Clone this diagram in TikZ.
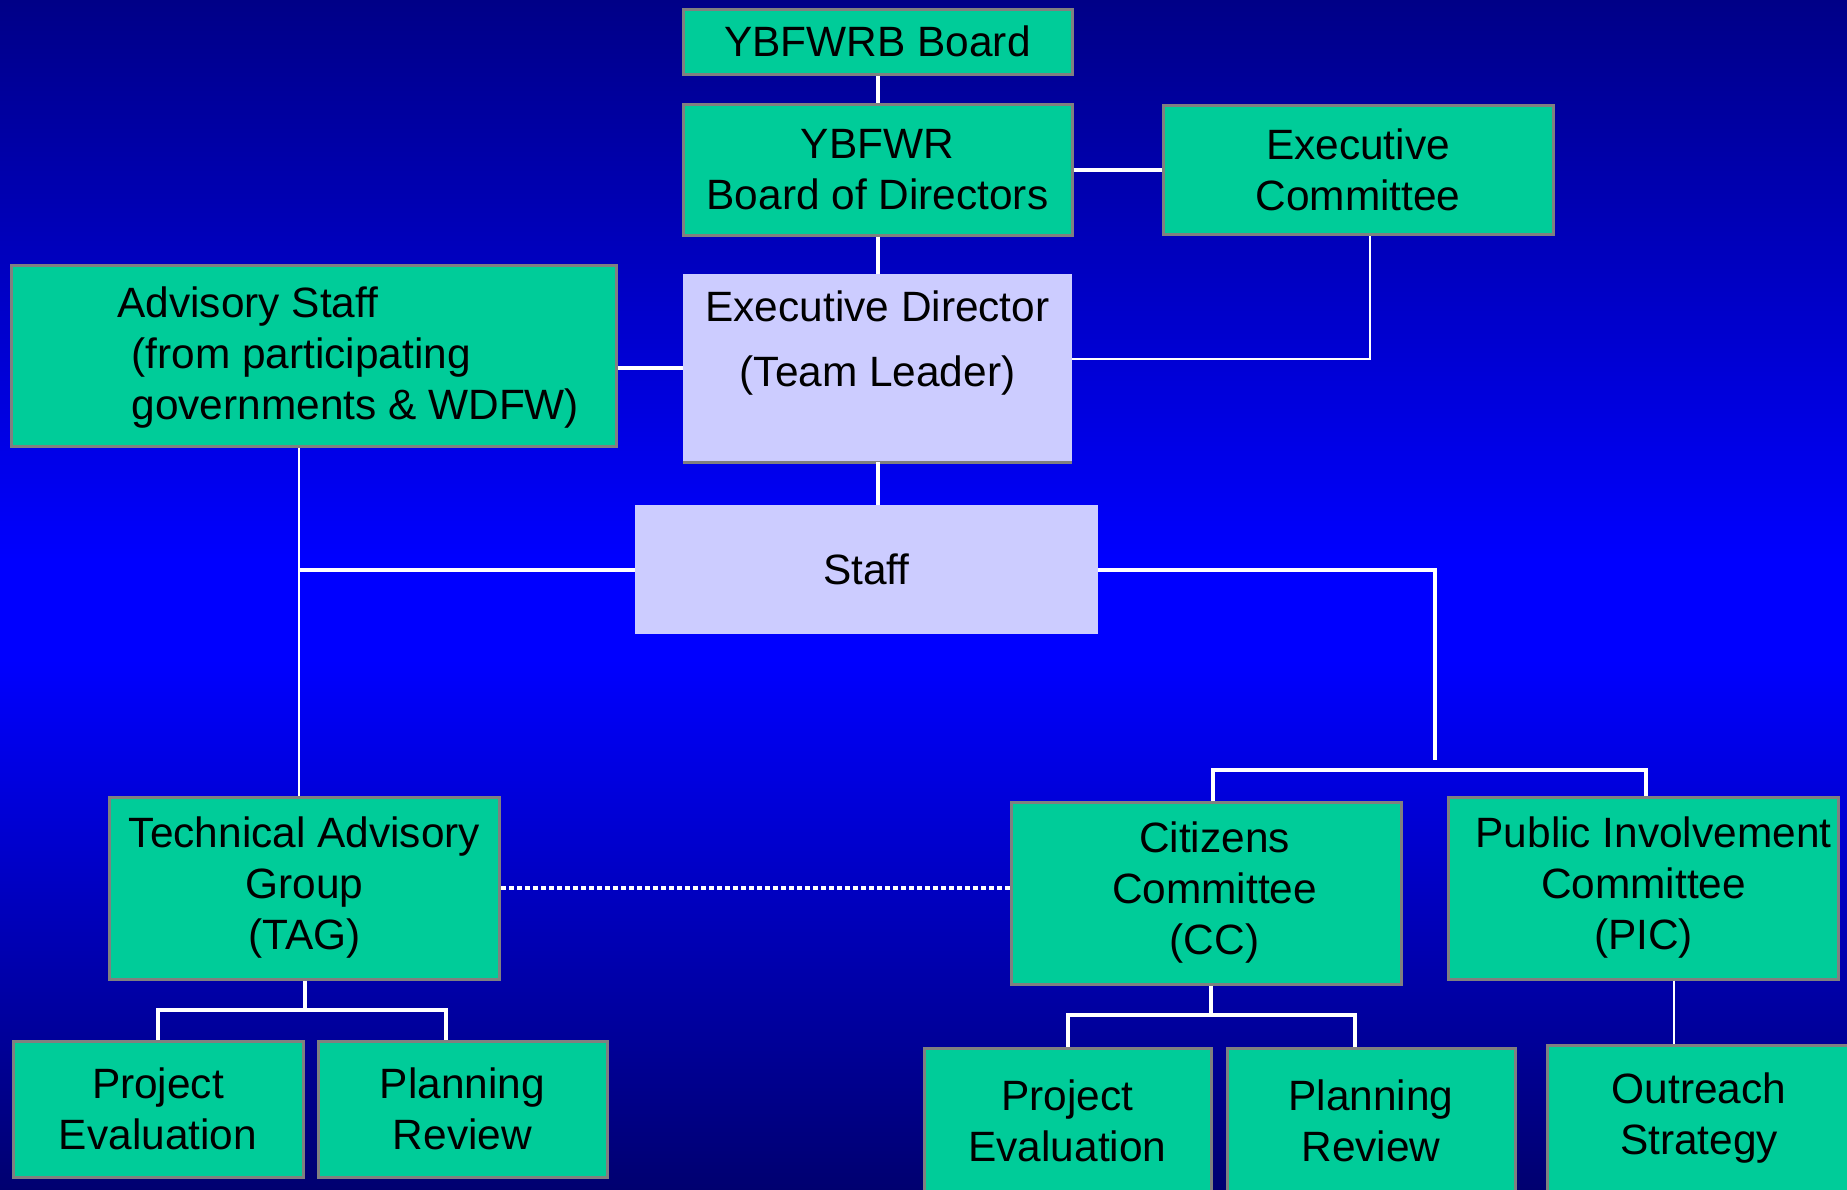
\documentclass[tikz,border=0pt]{standalone}
\usepackage{fontspec}
\setmainfont{Liberation Sans}
\usepackage{tikz}
\usetikzlibrary{positioning}

\definecolor{boxgreen}{RGB}{0,204,153}
\definecolor{boxlilac}{RGB}{204,204,255}
\definecolor{rimgray}{RGB}{128,128,128}
\definecolor{skytop}{RGB}{0,0,135}
\definecolor{skymid}{RGB}{0,0,255}
\definecolor{skylow}{RGB}{0,0,112}

\begin{document}
\begin{tikzpicture}[
      x=0.5pt, y=-0.5pt,
      unit/.style={
        draw=rimgray, line width=1.5pt, fill=boxgreen,
        inner sep=0pt, align=center,
        font=\fontsize{21.2}{25.5}\selectfont
      },
      pale/.style={
        fill=boxlilac, inner sep=0pt, align=center,
        font=\fontsize{21.2}{32.5}\selectfont
      },
      link/.style={draw=white, line width=2pt},
      hair/.style={draw=white, line width=1pt}
    ]
      \shade[top color=skytop, bottom color=skymid] (0,0) rectangle (1847,560);
      \fill[skymid] (0,559) rectangle (1847,661);
      \shade[top color=skymid, bottom color=skylow] (0,660) rectangle (1847,1189);
      \useasboundingbox (0,0) rectangle (1847,1189);
      \clip (0,0) rectangle (1847,1189);

      % top of the chart
      \node[unit, minimum width=194.5pt, minimum height=32.5pt] (board) at (877.5,41.5) {YBFWRB Board};
      \node[unit, minimum width=194.5pt, minimum height=65.5pt] (bod) at (877.5,169.5) {YBFWR\\Board of Directors};
      \node[unit, minimum width=195pt, minimum height=64.5pt] (exec) at (1358,169.5) {Executive\\Committee};

      \node[pale, minimum width=194.5pt, minimum height=94pt] (ed) at (877.5,368) {};
      \node[pale, fill=none] (edtext) at (877.5,343) {Executive Director\\(Team Leader)};
      \draw[rimgray, line width=1.5pt] (ed.south west) -- (ed.south east);

      \node[unit, minimum width=302.5pt, minimum height=90.5pt] (adv) at (313.5,355.5) {};
      \node[unit, draw=none, fill=none, align=left, anchor=west] (advtext) at (116,358)
        {Advisory Staff\\\hspace*{7pt}(from participating\\\hspace*{7pt}governments \& WDFW)};

      \node[pale, minimum width=231.5pt, minimum height=64.5pt] (staff) at (866.5,569.5) {Staff};

      % committees
      \foreach \nm/\x/\y/\txt in {tag/304.5/888/{Technical Advisory\\Group\\(TAG)},
                                  cc/1206.5/893/{\hspace*{8pt}Citizens\\\hspace*{8pt}Committee\\\hspace*{8pt}(CC)},
                                  pic/1643.5/888/{\hspace*{10pt}Public Involvement\\Committee\\(PIC)}} {
        \node[unit, minimum width=195pt, minimum height=91pt] (\nm) at (\x,\y) {\txt};
      }

      % working groups
      \node[unit, minimum width=145pt, minimum height=68pt] (pe1) at (158,1109) {Project\\Evaluation};
      \node[unit, minimum width=144.5pt, minimum height=68pt] (pr1) at (462.5,1109) {Planning\\Review};
      \node[unit, minimum width=143.5pt, minimum height=73pt] (pe2) at (1067.5,1121) {Project\\Evaluation};
      \node[unit, minimum width=144pt, minimum height=73pt] (pr2) at (1371,1121) {Planning\\Review};
      \node[unit, minimum width=152pt, minimum height=73pt] (out) at (1699,1118) {Outreach\\Strategy};

      \coordinate (drop) at (1435,760);
      \coordinate (cbar) at (1400,770);
      \coordinate (tbar) at (300,1010);
      \coordinate (ubar) at (1200,1015);
      \coordinate (avert) at (299,760);

      \draw[link] (board.south) -- (bod.north);
      \draw[link] (bod.east) -- (exec.west);
      \draw[link] (bod.south) -- (ed.north);
      \draw[hair] ([yshift=4.5pt]ed.east) -| ([xshift=6pt]exec.south);
      \draw[link] (ed.west) -- (adv.east |- ed.west);
      \draw[link] (ed.south) -- (ed.south |- staff.north);
      \draw[hair] (avert |- adv.south) -- (avert |- tag.north);
      \draw[link] (staff.west) -- (avert |- staff.west);
      \draw[link] (staff.east) -| (drop);
      \draw[link] ([xshift=3pt]cc.north) |- (cbar) -| ([xshift=1pt]pic.north);
      \draw[white, line width=2pt, dash pattern=on 2.5pt off 1.5pt] (tag.east) -- (cc.west |- tag.east);

      \draw[link] (tag.south) -- (tag.south |- tbar);
      \draw[link] (pe1.north) |- (tbar) -| ([xshift=-8.5pt]pr1.north);
      \draw[link] ([xshift=2pt]cc.south) -- ([xshift=2pt]cc.south |- ubar);
      \draw[link] (pe2.north) |- (ubar) -| ([xshift=-8pt]pr2.north);
      \draw[hair] ([xshift=15pt]pic.south) -- ([xshift=15pt]pic.south |- out.north);
    \end{tikzpicture}
\end{document}
